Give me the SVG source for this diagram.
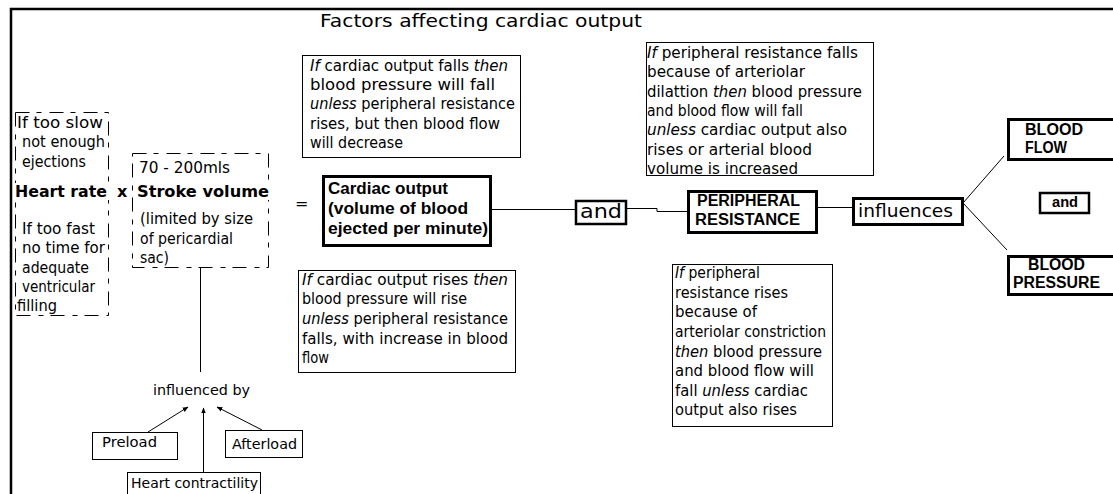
<svg xmlns="http://www.w3.org/2000/svg" width="1113" height="494" viewBox="0 0 1113 494">
<defs>
<style>
text{font-family:"DejaVu Sans","Liberation Sans",Arial,sans-serif;font-size:15px;fill:#000}
.b{font-family:"Liberation Sans",Arial,sans-serif;font-weight:bold;font-size:16px}
.bd{font-family:"DejaVu Sans",sans-serif;font-weight:bold;font-size:16px}
.i{font-style:italic}
.s14{font-size:14.5px}
.note{fill:#fff;stroke:#000;stroke-width:1}
.thick{fill:#fff;stroke:#000;stroke-width:3}
.dash{fill:none;stroke:#000;stroke-width:1;stroke-dasharray:14 7 5 8}
.ln{fill:none;stroke:#000;stroke-width:1}
</style>
<marker id="ah" viewBox="0 0 10 10" refX="9" refY="5" markerWidth="6" markerHeight="6" orient="auto" markerUnits="userSpaceOnUse">
<path d="M0,1 L10,5 L0,9 z" fill="#000"/>
</marker>
</defs>
<rect width="1113" height="494" fill="#fff"/>
<path d="M11,494 V9 H1113" fill="none" stroke="#000" stroke-width="2.5"/>
<g id="title"><text x="320" y="27" style="font-size:18px" textLength="322" lengthAdjust="spacingAndGlyphs">Factors affecting cardiac output</text></g>

<g id="connectors">
<line class="ln" x1="200.5" y1="267" x2="200.5" y2="372"/>
<line class="ln" x1="492" y1="209.5" x2="576" y2="209.5"/>
<polyline class="ln" points="627,208.5 657,208.5 657,211.5 688,211.5"/>
<line class="ln" x1="817" y1="207.5" x2="853" y2="207.5"/>
<line class="ln" x1="963" y1="203" x2="1004" y2="156"/>
<line class="ln" x1="963" y1="203" x2="1007" y2="250"/>
<line class="ln" x1="148" y1="432" x2="188" y2="407" marker-end="url(#ah)"/>
<line class="ln" x1="203.5" y1="472" x2="203.5" y2="408" marker-end="url(#ah)"/>
<line class="ln" x1="262" y1="430" x2="217" y2="407" marker-end="url(#ah)"/>
</g>

<g id="heart-rate">
<rect class="dash" x="15.5" y="112.5" width="93" height="203"/>
<text x="17" y="128" textLength="86" lengthAdjust="spacingAndGlyphs">If too slow</text>
<text x="22" y="147" textLength="83" lengthAdjust="spacingAndGlyphs">not enough</text>
<text x="22" y="167" textLength="64" lengthAdjust="spacingAndGlyphs">ejections</text>
<rect x="14" y="183" width="96" height="17" fill="#fff"/>
<text class="bd" x="15" y="197" textLength="92" lengthAdjust="spacingAndGlyphs">Heart rate</text>
<text x="22" y="234" textLength="73" lengthAdjust="spacingAndGlyphs">If too fast</text>
<text x="22" y="253" textLength="83" lengthAdjust="spacingAndGlyphs">no time for</text>
<text x="22" y="273" textLength="67" lengthAdjust="spacingAndGlyphs">adequate</text>
<text x="22" y="292" textLength="73" lengthAdjust="spacingAndGlyphs">ventricular</text>
<text x="17" y="311" textLength="40" lengthAdjust="spacingAndGlyphs">filling</text>
</g>
<g id="times"><text class="bd" x="117" y="197">x</text></g>
<g id="stroke-volume">
<rect class="dash" x="132.5" y="153.5" width="136" height="114"/>
<text x="139" y="173" textLength="91" lengthAdjust="spacingAndGlyphs">70 - 200mls</text>
<rect x="134" y="183" width="138" height="17" fill="#fff"/>
<text class="bd" x="137" y="197" textLength="132" lengthAdjust="spacingAndGlyphs">Stroke volume</text>
<text x="140" y="224" textLength="113" lengthAdjust="spacingAndGlyphs">(limited by size</text>
<text x="140" y="244" textLength="93" lengthAdjust="spacingAndGlyphs">of pericardial</text>
<text x="140" y="263" textLength="29" lengthAdjust="spacingAndGlyphs">sac)</text>
</g>
<g id="equals"><text x="295" y="209" style="font-size:16px">=</text></g>

<g id="note-falls">
<rect class="note" x="302.5" y="55.5" width="218" height="102"/>
<text x="310" y="71" textLength="198" lengthAdjust="spacingAndGlyphs"><tspan class="i">If</tspan> cardiac output falls <tspan class="i">then</tspan></text>
<text x="310" y="90" textLength="185" lengthAdjust="spacingAndGlyphs">blood pressure will fall</text>
<text x="310" y="109" textLength="205" lengthAdjust="spacingAndGlyphs"><tspan class="i">unless</tspan> peripheral resistance</text>
<text x="310" y="129" textLength="190" lengthAdjust="spacingAndGlyphs">rises, but then blood flow</text>
<text x="310" y="148" textLength="93" lengthAdjust="spacingAndGlyphs">will decrease</text>
</g>

<g id="cardiac-output">
<rect class="thick" x="323.5" y="176.5" width="167" height="69"/>
<text class="b" x="328" y="194" style="font-size:17px" textLength="120" lengthAdjust="spacingAndGlyphs">Cardiac output</text>
<text class="b" x="328" y="214" style="font-size:17px" textLength="140" lengthAdjust="spacingAndGlyphs">(volume of blood</text>
<text class="b" x="328" y="234" style="font-size:17px" textLength="160" lengthAdjust="spacingAndGlyphs">ejected per minute)</text>
</g>

<g id="note-rises">
<rect class="note" x="298.5" y="270.5" width="217" height="102"/>
<text x="302" y="285" textLength="206" lengthAdjust="spacingAndGlyphs"><tspan class="i">If</tspan> cardiac output rises <tspan class="i">then</tspan></text>
<text x="302" y="304" textLength="165" lengthAdjust="spacingAndGlyphs">blood pressure will rise</text>
<text x="302" y="324" textLength="206" lengthAdjust="spacingAndGlyphs"><tspan class="i">unless</tspan> peripheral resistance</text>
<text x="302" y="344" textLength="206" lengthAdjust="spacingAndGlyphs">falls, with increase in blood</text>
<text x="302" y="363" textLength="27" lengthAdjust="spacingAndGlyphs">flow</text>
</g>

<g id="and1">
<rect x="576" y="201" width="50" height="23" fill="#fff" stroke="#000" stroke-width="2.5"/>
<text x="580" y="218" style="font-size:20px" textLength="42" lengthAdjust="spacingAndGlyphs">and</text>
</g>

<g id="note-pr-falls">
<rect class="note" x="646.5" y="42.5" width="227" height="133"/>
<text x="647" y="58" textLength="211" lengthAdjust="spacingAndGlyphs"><tspan class="i">If</tspan> peripheral resistance falls</text>
<text x="647" y="77" textLength="158" lengthAdjust="spacingAndGlyphs">because of arteriolar</text>
<text x="647" y="97" textLength="215" lengthAdjust="spacingAndGlyphs">dilattion <tspan class="i">then</tspan> blood pressure</text>
<text x="647" y="116" textLength="156" lengthAdjust="spacingAndGlyphs">and blood flow will fall</text>
<text x="647" y="135" textLength="200" lengthAdjust="spacingAndGlyphs"><tspan class="i">unless</tspan> cardiac output also</text>
<text x="647" y="155" textLength="165" lengthAdjust="spacingAndGlyphs">rises or arterial blood</text>
<text x="647" y="174" textLength="151" lengthAdjust="spacingAndGlyphs">volume is increased</text>
</g>

<g id="peripheral-resistance">
<rect class="thick" x="688.5" y="191.5" width="128" height="41"/>
<text class="b" x="697" y="206" textLength="103" lengthAdjust="spacingAndGlyphs">PERIPHERAL</text>
<text class="b" x="695" y="225" textLength="105" lengthAdjust="spacingAndGlyphs">RESISTANCE</text>
</g>

<g id="note-pr-rises">
<rect class="note" x="672.5" y="264.5" width="160" height="162"/>
<text x="675" y="278" textLength="85" lengthAdjust="spacingAndGlyphs"><tspan class="i">If</tspan> peripheral</text>
<text x="675" y="298" textLength="113" lengthAdjust="spacingAndGlyphs">resistance rises</text>
<text x="675" y="317" textLength="82" lengthAdjust="spacingAndGlyphs">because of</text>
<text x="675" y="337" textLength="151" lengthAdjust="spacingAndGlyphs">arteriolar constriction</text>
<text x="675" y="357" textLength="147" lengthAdjust="spacingAndGlyphs"><tspan class="i">then</tspan> blood pressure</text>
<text x="675" y="376" textLength="139" lengthAdjust="spacingAndGlyphs">and blood flow will</text>
<text x="675" y="396" textLength="133" lengthAdjust="spacingAndGlyphs">fall <tspan class="i">unless</tspan> cardiac</text>
<text x="675" y="415" textLength="122" lengthAdjust="spacingAndGlyphs">output also rises</text>
</g>

<g id="influences">
<rect class="thick" x="853.5" y="198.5" width="109" height="26"/>
<text x="858" y="217" style="font-size:18.5px" textLength="95" lengthAdjust="spacingAndGlyphs">influences</text>
</g>

<g id="blood-flow">
<rect class="thick" x="1008.5" y="119.5" width="120" height="40"/>
<text class="b" x="1025" y="135" textLength="58" lengthAdjust="spacingAndGlyphs">BLOOD</text>
<text class="b" x="1025" y="153" textLength="42" lengthAdjust="spacingAndGlyphs">FLOW</text>
</g>

<g id="and2">
<rect x="1040" y="193" width="49" height="20" fill="#fff" stroke="#000" stroke-width="2.5"/>
<text class="b" x="1052" y="207" style="font-size:14px" textLength="26" lengthAdjust="spacingAndGlyphs">and</text>
</g>

<g id="blood-pressure">
<rect class="thick" x="1008.5" y="256.5" width="120" height="38"/>
<text class="b" x="1028" y="270" textLength="57" lengthAdjust="spacingAndGlyphs">BLOOD</text>
<text class="b" x="1013" y="288" textLength="87" lengthAdjust="spacingAndGlyphs">PRESSURE</text>
</g>

<g id="influenced-by"><text class="s14" x="153" y="395" textLength="97" lengthAdjust="spacingAndGlyphs">influenced by</text></g>

<g id="preload">
<rect class="note" x="92.5" y="432.5" width="85" height="27"/>
<text class="s14" x="102" y="447" textLength="55" lengthAdjust="spacingAndGlyphs">Preload</text>
</g>
<g id="afterload">
<rect class="note" x="225.5" y="430.5" width="77" height="27"/>
<text class="s14" x="232" y="449" textLength="65" lengthAdjust="spacingAndGlyphs">Afterload</text>
</g>
<g id="contractility">
<rect class="note" x="127.5" y="472.5" width="133" height="30"/>
<text x="131" y="488" style="font-size:14px" textLength="127" lengthAdjust="spacingAndGlyphs">Heart contractility</text>
</g>
</svg>
